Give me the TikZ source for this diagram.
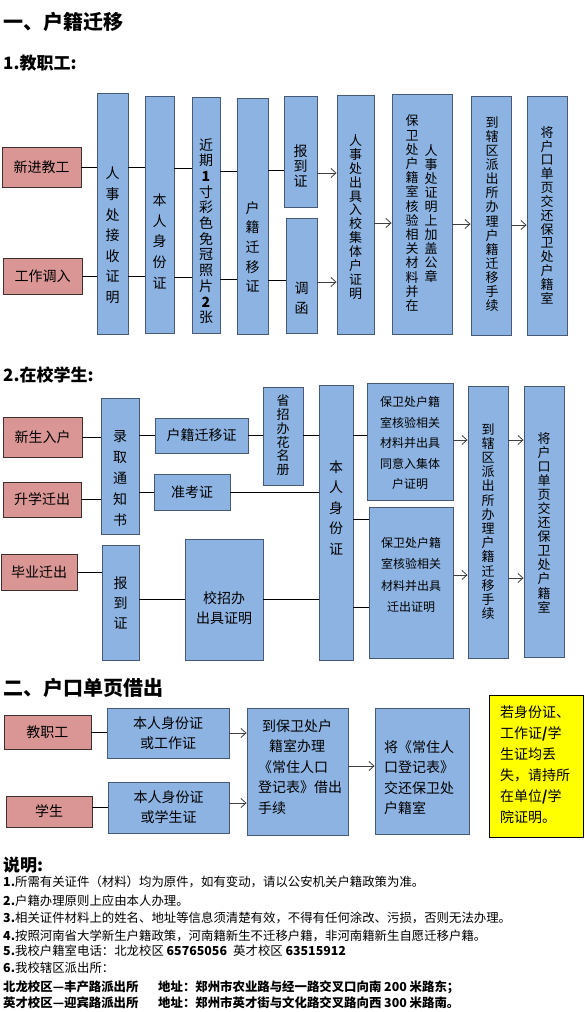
\documentclass[tikz,border=0pt]{standalone}
\usepackage{fontspec}
\setmainfont{Noto Sans CJK SC}
\usetikzlibrary{arrows.meta}
\definecolor{boxblue}{HTML}{8DB3E2}
\definecolor{bluedraw}{HTML}{465A78}
\definecolor{boxpink}{HTML}{D99694}
\definecolor{pinkdraw}{HTML}{3C3030}
\definecolor{noteyellow}{HTML}{FFFF00}
\newlength\vtsp
\makeatletter
\newcommand\vt[3]{{\fontsize{#1}{#2}\selectfont\setlength\vtsp{#2pt}\vbox{\offinterlineskip\vt@#3\@nil}}}
\def\vt@#1{\ifx\@nil#1\@empty\else\hbox to 1.3em{\hss\vrule width0pt height0.78\vtsp depth0.22\vtsp\relax#1\hss}\expandafter\vt@\fi}
\makeatother
\newcommand\mybox[7]{\pgfmathsetmacro\mbw{#5-#3}\pgfmathsetmacro\mbh{#6-#4}\pgfmathsetmacro\mbx{(#3+#5)/2}\pgfmathsetmacro\mby{(#4+#6)/2}\node[#2,minimum width=\mbw pt,minimum height=\mbh pt] (#1) at (\mbx,\mby) {#7};}
\begin{document}
\begin{tikzpicture}[x=1pt,y=-1pt,
 bluebox/.style={draw=bluedraw,fill=boxblue,line width=0.9pt,inner sep=0pt},
 pinkbox/.style={draw=pinkdraw,fill=boxpink,line width=0.9pt,inner sep=0pt,font=\fontsize{14}{16}\selectfont},
 yelbox/.style={draw=black,fill=noteyellow,line width=0.9pt,inner sep=0pt},
 txt/.style={inner sep=0pt},
 htxt/.style={inner sep=0pt,align=center,font=\fontsize{14}{20}\selectfont},
 ltxt/.style={inner sep=0pt,anchor=west,align=left,font=\fontsize{14}{20.5}\selectfont},
 conn/.style={line width=0.8pt,black},
 arr/.style={line width=0.8pt,black!75,-{Straight Barb[length=5pt,width=9pt]}},
 head/.style={inner sep=0pt,anchor=west,font=\bfseries\fontsize{20}{24}\selectfont},
 subhead/.style={inner sep=0pt,anchor=west,font=\bfseries\fontsize{17}{20}\selectfont},
 note/.style={inner sep=0pt,anchor=west,font=\fontsize{12.4}{14}\selectfont},
 boldnote/.style={inner sep=0pt,anchor=west,font=\bfseries\fontsize{12.4}{14}\selectfont},
]
\fill[white] (0,0) rectangle (585,1012);
\useasboundingbox (0,0) rectangle (585,1012);

% ---------- headings ----------
\node[head] (h1) at (3,22) {一、户籍迁移};
\node[subhead] (h11) at (3,63) {1.教职工:};

% ---------- section 1 ----------
\mybox{xj}{pinkbox}{2}{147}{81}{187}{新进教工}
\mybox{gz}{pinkbox}{3}{258}{82}{294}{工作调入}
\mybox{rs}{bluebox}{97}{93}{128}{334}{}
\mybox{br}{bluebox}{145}{96}{174}{333}{}
\mybox{jq}{bluebox}{192}{97}{220}{333}{}
\mybox{hj}{bluebox}{237}{98}{268}{334}{}
\mybox{bd}{bluebox}{284}{96}{317}{207}{}
\mybox{dh}{bluebox}{286}{218}{317}{333}{}
\mybox{rc}{bluebox}{337}{95}{374}{334}{}
\mybox{bw}{bluebox}{392}{94}{452}{334}{}
\mybox{xq}{bluebox}{471}{96}{511}{335}{}
\mybox{jh}{bluebox}{527}{96}{567}{335}{}

\node[txt] (trs) at (112.5,235) {\vt{14}{20.6}{人事处接收证明}};
\node[txt] (tbr) at (159.5,241) {\vt{14}{20.75}{本人身份证}};
\node[txt] (tjq) at (206,232) {\vt{14}{15.7}{近期{\textbf{1}}寸彩色免冠照片{\textbf{2}}张}};
\node[txt] (thj) at (252.5,247) {\vt{14}{19.7}{户籍迁移证}};
\node[txt] (tbd) at (300.5,167) {\vt{14}{15}{报到证}};
\node[txt] (tdh) at (301.5,298) {\vt{14}{20}{调函}};
\node[txt] (trc) at (355.5,218) {\vt{13}{13.7}{人事处出具入校集体户证明}};
\node[txt] (tbwa) at (412,214.3) {\vt{13}{14.2}{保卫处户籍室核验相关材料并在}};
\node[txt] (tbwb) at (431,214.5) {\vt{13}{13.9}{人事处证明上加盖公章}};
\node[txt] (txq) at (492,215) {\vt{13}{14.1}{到辖区派出所办理户籍迁移手续}};
\node[txt] (tjh) at (547,216.5) {\vt{13}{13.6}{将户口单页交还保卫处户籍室}};

\coordinate (c168) at (0,168.5);
\coordinate (c277) at (0,277.5);
\coordinate (c172) at (0,171.5);
\coordinate (c279) at (0,279);
\coordinate (c170) at (0,170);
\coordinate (c280) at (0,280);
\coordinate (c173) at (0,173);
\coordinate (c282) at (0,282);
\coordinate (c223) at (0,223);
\coordinate (c224) at (0,224);
\coordinate (c225) at (0,225);

\draw[conn] (xj.east) -- (xj.east -| rs.west);
\draw[conn] (gz.east) -- (gz.east -| rs.west);
\draw[conn] (rs.east |- xj) -- (br.west |- xj);
\draw[conn] (rs.east |- gz) -- (br.west |- gz);
\draw[conn] (br.east |- c168) -- (jq.west |- c168);
\draw[conn] (br.east |- c277) -- (jq.west |- c277);
\draw[conn] (jq.east |- c172) -- (hj.west |- c172);
\draw[conn] (jq.east |- c279) -- (hj.west |- c279);
\draw[conn] (hj.east |- c170) -- (bd.west |- c170);
\draw[conn] (hj.east |- c280) -- (dh.west |- c280);
\draw[arr] (bd.east |- c173) -- (rc.west |- c173);
\draw[arr] (dh.east |- c282) -- (rc.west |- c282);
\draw[arr] (rc.east |- c223) -- (bw.west |- c223);
\draw[arr] (bw.east |- c224) -- (xq.west |- c224);
\draw[arr] (xq.east |- c225) -- (jh.west |- c225);

% ---------- section 2 ----------
\node[subhead] (h12) at (3,375) {2.在校学生:};
\mybox{xs}{pinkbox}{3}{417}{82}{457}{新生入户}
\mybox{sx}{pinkbox}{3}{482}{81}{517}{升学迁出}
\mybox{by}{pinkbox}{1}{554}{77}{590}{毕业迁出}
\mybox{lq}{bluebox}{101}{398}{139}{534}{}
\mybox{bdb}{bluebox}{102}{545}{139}{660}{}
\mybox{hq}{bluebox,font=\fontsize{14}{16}\selectfont}{155}{418}{248}{453}{户籍迁移证}
\mybox{zk}{bluebox,font=\fontsize{14}{16}\selectfont}{154}{474}{230}{510}{准考证}
\mybox{xz}{bluebox}{185}{539}{263}{660}{}
\mybox{sz}{bluebox}{263}{387}{303}{485}{}
\mybox{brb}{bluebox}{319}{385}{353}{660}{}
\mybox{bwa}{bluebox}{367}{383}{453}{500}{}
\mybox{bwb}{bluebox}{369}{507}{453}{658}{}
\mybox{xqb}{bluebox}{468}{386}{508}{658}{}
\mybox{jhb}{bluebox}{524}{386}{564}{657}{}

\node[txt] (tlq) at (120,478) {\vt{14}{21}{录取通知书}};
\node[txt] (tbdb) at (120.5,603) {\vt{14}{20}{报到证}};
\node[htxt] (txz) at (224,608) {校招办\\出具证明};
\node[txt] (tsz) at (283,436) {\vt{13}{13.7}{省招办花名册}};
\node[txt] (tbrb) at (336,507.5) {\vt{14}{20.4}{本人身份证}};
\node[txt,align=center,font=\fontsize{12}{20.5}\selectfont] (tbwa) at (410,443) {保卫处户籍\\室核验相关\\材料并出具\\同意入集体\\户证明};
\node[txt,align=center,font=\fontsize{12}{21.2}\selectfont] (tbwb) at (411,575) {保卫处户籍\\室核验相关\\材料并出具\\迁出证明};
\node[txt] (txqb) at (488,522.5) {\vt{13}{14.2}{到辖区派出所办理户籍迁移手续}};
\node[txt] (tjhb) at (544,524) {\vt{13}{14}{将户口单页交还保卫处户籍室}};

\coordinate (c519) at (0,519);
\coordinate (c607) at (0,607);
\coordinate (c440) at (0,440);
\coordinate (c575) at (0,575);
\coordinate (c578) at (0,578);

\draw[conn] (xs.east) -- (xs.east -| lq.west);
\draw[conn] (sx.east) -- (sx.east -| lq.west);
\draw[conn] (by.east) -- (by.east -| bdb.west);
\draw[conn] (lq.east |- hq) -- (hq.west);
\draw[conn] (lq.east |- zk) -- (zk.west);
\draw[conn] (hq.east) -- (hq.east -| sz.west);
\draw[conn] (zk.east) -- (zk.east -| brb.west);
\draw[conn] (sz.east |- hq) -- (brb.west |- hq);
\draw[conn] (bdb.east |- xz) -- (xz.west);
\draw[conn] (xz.east) -- (xz.east -| brb.west);
\draw[conn] (brb.east |- hq) -- (bwa.west |- hq);
\draw[conn] (brb.east |- c519) -- (bwb.west |- c519);
\draw[conn] (brb.east |- c607) -- (bwb.west |- c607);
\draw[arr] (bwa.east |- c440) -- (xqb.west |- c440);
\draw[arr] (bwb.east |- c575) -- (xqb.west |- c575);
\draw[arr] (xqb.east |- c440) -- (jhb.west |- c440);
\draw[arr] (xqb.east |- c578) -- (jhb.west |- c578);

% ---------- section 3 ----------
\node[head] (h2) at (3,688) {二、户口单页借出};
\mybox{jz}{pinkbox}{4}{715}{91}{749}{教职工}
\mybox{xsh}{pinkbox}{6}{796}{92}{827}{学生}
\mybox{sfa}{bluebox,align=center,font=\fontsize{14}{20}\selectfont}{107}{708}{229}{758}{本人身份证\\或工作证}
\mybox{sfb}{bluebox,align=center,font=\fontsize{14}{20}\selectfont}{108}{782}{229}{833}{本人身份证\\或学生证}
\mybox{dbw}{bluebox}{247}{708}{348}{835}{}
\mybox{jc}{bluebox}{375}{708}{469}{834}{}
\mybox{yl}{yelbox}{489}{695}{583}{837}{}

\node[ltxt] (tdbw) at (258,767) {\hspace*{4pt}到保卫处户\\\hspace*{11pt}籍室办理\\《常住人口\\登记表》借出\\手续};
\node[ltxt] (tjc) at (384,777.5) {将《常住人\\口登记表》\\交还保卫处\\户籍室};
\node[ltxt,font=\fontsize{14}{21}\selectfont] (tyl) at (500,764.5) {若身份证、\\工作证\textbf{/}学\\生证均丢\\失，请持所\\在单位\textbf{/}学\\院证明。};

\coordinate (c803) at (0,803);
\coordinate (c766) at (0,766);
\draw[conn] (jz.east) -- (jz.east -| sfa.west);
\draw[conn] (sfb.west -| xsh.east) -- (sfb.west);
\draw[arr] (sfa.east) -- (sfa.east -| dbw.west);
\draw[arr] (sfb.east |- c803) -- (dbw.west |- c803);
\draw[arr] (dbw.east |- c766) -- (jc.west |- c766);

% ---------- notes ----------
\node[subhead] (h3) at (3,865) {说明:};
\node[note] (n1) at (3,882) {\textbf{1.}所需有关证件（材料）均为原件，如有变动，请以公安机关户籍政策为准。};
\node[note] (n2) at (3,901) {\textbf{2.}户籍办理原则上应由本人办理。};
\node[note] (n3) at (3,918) {\textbf{3.}相关证件材料上的姓名、地址等信息须清楚有效，不得有任何涂改、污损，否则无法办理。};
\node[note] (n4) at (3,936) {\textbf{4.}按照河南省大学新生户籍政策，河南籍新生不迁移户籍，非河南籍新生自愿迁移户籍。};
\node[note] (n5) at (3,951) {\textbf{5.}我校户籍室电话：北龙校区 \textbf{65765056}};
\node[note] (n5b) at (233,951) {英才校区 \textbf{63515912}};
\node[note] (n6) at (3,968) {\textbf{6.}我校辖区派出所：};
\node[boldnote] (n7) at (3,987) {北龙校区—丰产路派出所};
\node[boldnote] (n7b) at (158,987) {地址：郑州市农业路与经一路交叉口向南 200 米路东；};
\node[boldnote] (n8) at (3,1003) {英才校区—迎宾路派出所};
\node[boldnote] (n8b) at (158,1003) {地址：郑州市英才街与文化路交叉路向西 300 米路南。};
\end{tikzpicture}
\end{document}
